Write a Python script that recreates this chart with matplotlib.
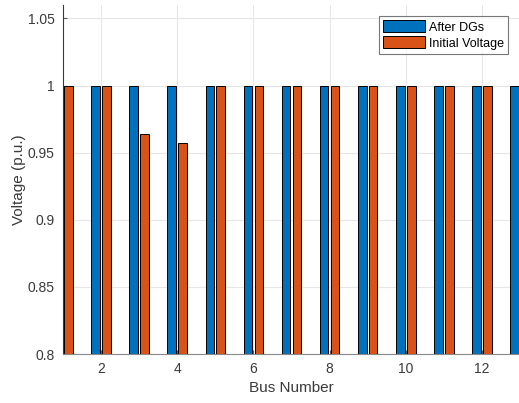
import numpy as np
import matplotlib
matplotlib.use("Agg")
import matplotlib.pyplot as plt

plt.rcParams['font.family'] = ['Liberation Sans', 'DejaVu Sans']

buses = list(range(1, 14))
after_dgs = [1.0, 1.0, 1.0, 1.0, 1.0, 1.0, 1.0, 1.0, 1.0, 1.0, 1.0, 1.0, 1.0]
initial_voltage = [1.0, 1.0, 0.9636, 0.957, 1.0, 1.0, 1.0, 1.0, 1.0, 1.0, 1.0, 1.0, 1.0]
x_ticks = [2, 4, 6, 8, 10, 12]
y_ticks = [0.8, 0.85, 0.9, 0.95, 1.0, 1.05]
y_tick_labels = ['0.8', '0.85', '0.9', '0.95', '1', '1.05']

blue = '#0072BD'
orange = '#D95319'
txt = '#3a3a3a'

fig = plt.figure(figsize=(5.19, 4.03), dpi=100)
ax = fig.add_axes([63 / 519, 1 - 354 / 403, 457 / 519, 349 / 403])

x = np.array(buses, dtype=float)
offset = 0.143
width = 0.229
ax.bar(x - offset, np.array(after_dgs) - 0.8, width, bottom=0.8, color=blue,
       edgecolor='black', linewidth=0.7, label='After DGs', zorder=3)
ax.bar(x + offset, np.array(initial_voltage) - 0.8, width, bottom=0.8, color=orange,
       edgecolor='black', linewidth=0.7, label='Initial Voltage', zorder=3)

ax.set_xlim(1, 13)
ax.set_ylim(0.8, 1.06)
ax.set_xticks(x_ticks)
ax.set_yticks(y_ticks)
ax.set_yticklabels(y_tick_labels)
ax.tick_params(direction='in', length=3, colors='#5a5a5a', labelcolor=txt,
               labelsize=10, pad=6)
ax.grid(True, color='#e6e6e6', linewidth=0.8, zorder=0)
ax.set_axisbelow(True)

for side in ['top', 'right']:
    ax.spines[side].set_visible(False)
ax.spines['left'].set_color('#3a3a3a')
ax.spines['bottom'].set_color('#8a8a8a')
ax.spines['left'].set_linewidth(0.8)
ax.spines['bottom'].set_linewidth(0.8)

ax.set_xlabel('Bus Number', fontsize=11, color=txt, labelpad=3)
ax.set_ylabel('Voltage (p.u.)', fontsize=11, color=txt, labelpad=1)

leg = ax.legend(loc='upper left', fontsize=9, frameon=True, fancybox=False,
                handlelength=3.3, handleheight=1.1, handletextpad=0.35,
                borderpad=0.35, labelspacing=0.22, borderaxespad=0)
leg.get_frame().set_edgecolor('#555555')
leg.get_frame().set_linewidth(0.8)
leg.set_bbox_to_anchor(((379 - 63) / 457, 1 - 11 / 349), transform=ax.transAxes)

fig.savefig('out.png', dpi=100)
